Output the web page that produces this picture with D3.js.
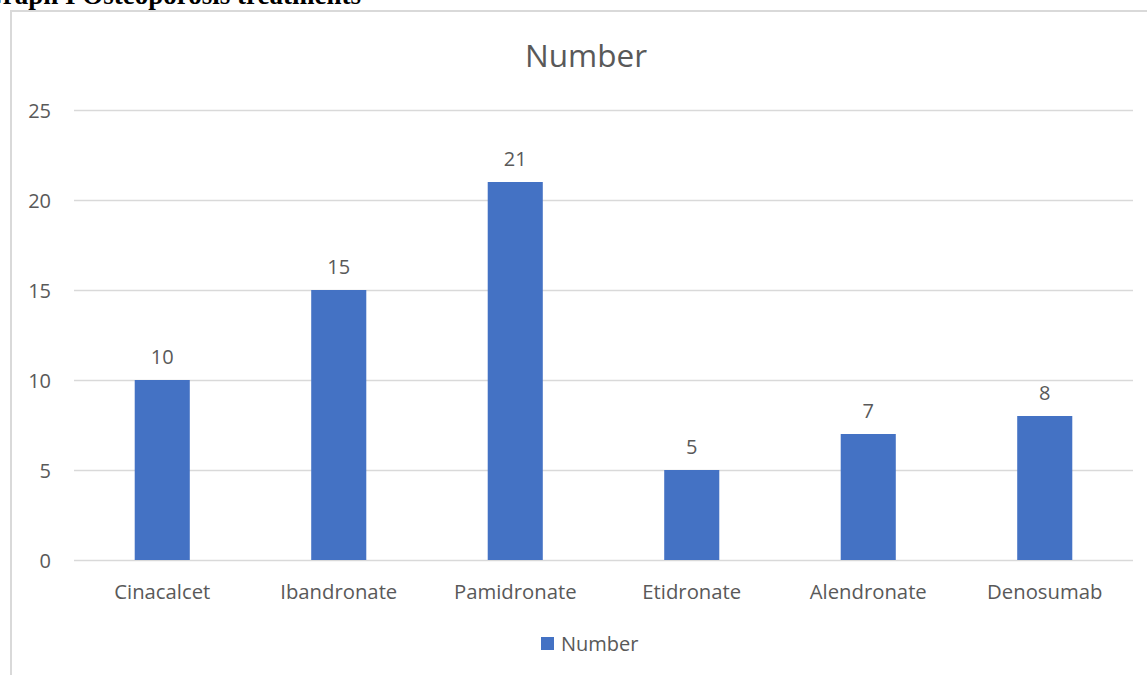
<!DOCTYPE html>
<html>
<head>
<meta charset="utf-8">
<script src="https://cdn.jsdelivr.net/npm/d3@7"></script>
<style>
  html, body { margin: 0; padding: 0; background: #ffffff; overflow: hidden; }
  svg { display: block; }
</style>
</head>
<body>
<svg id="chart" width="1147" height="675"></svg>
<script>
// Osteoporosis treatments: number of patients per drug
const categories = ["Cinacalcet", "Ibandronate", "Pamidronate", "Etidronate", "Alendronate", "Denosumab"];
const values = [10, 15, 21, 5, 7, 8];
const yTicks = [0, 5, 10, 15, 20, 25];
const seriesName = "Number";
const pageHeading = "Graph I Osteoporosis treatments";

const textColor = "#595959";
const barColor = "#4472C4";
const gridColor = "#d9d9d9";
const font = "'Open Sans', 'Noto Sans', sans-serif";

const svg = d3.select("#chart");

// Heading of the document above the chart frame
svg.append("text")
  .attr("x", 361).attr("y", 4)
  .attr("text-anchor", "end")
  .attr("font-family", "'Liberation Serif', 'Times New Roman', serif")
  .attr("font-weight", "bold")
  .attr("font-size", 27)
  .attr("fill", "#000")
  .text(pageHeading);

// Chart frame (left and top edges visible)
svg.append("path")
  .attr("d", "M11,675 L11,11 L1147,11")
  .attr("fill", "none")
  .attr("stroke", gridColor)
  .attr("stroke-width", 2);

const x = d3.scaleBand()
  .domain(categories)
  .range([74, 1133])
  .paddingInner(0.688)
  .paddingOuter(0.344);

const y = d3.scaleLinear()
  .domain([0, 25])
  .range([560, 110]);

// Horizontal gridlines
svg.append("g")
  .selectAll("line")
  .data(yTicks)
  .join("line")
  .attr("x1", 74).attr("x2", 1133)
  .attr("y1", d => Math.round(y(d)) + 0.5)
  .attr("y2", d => Math.round(y(d)) + 0.5)
  .attr("stroke", gridColor)
  .attr("stroke-width", 1.3);

// Y axis labels
const yAxis = d3.axisLeft(y).tickValues(yTicks).tickSize(0).tickPadding(0);
const yg = svg.append("g")
  .attr("transform", "translate(51,0)")
  .call(yAxis);
yg.select(".domain").remove();
yg.selectAll("text")
  .attr("font-family", font)
  .attr("font-size", 20)
  .attr("fill", textColor)
  .attr("dy", "0.35em");

// X axis labels
const xAxis = d3.axisBottom(x).tickSize(0).tickPadding(0);
const xg = svg.append("g")
  .attr("transform", "translate(0,599)")
  .call(xAxis);
xg.select(".domain").remove();
xg.selectAll("text")
  .attr("font-family", font)
  .attr("font-size", 20.3)
  .attr("fill", textColor)
  .attr("dy", 0)
  .attr("y", 0);

// Bars
svg.append("g")
  .selectAll("rect")
  .data(categories.map((c, i) => ({ c, v: values[i] })))
  .join("rect")
  .attr("x", d => x(d.c))
  .attr("width", x.bandwidth())
  .attr("y", d => y(d.v))
  .attr("height", d => y(0) - y(d.v))
  .attr("fill", barColor);

// Value labels
svg.append("g")
  .selectAll("text")
  .data(categories.map((c, i) => ({ c, v: values[i] })))
  .join("text")
  .attr("x", d => x(d.c) + x.bandwidth() / 2)
  .attr("y", d => y(d.v) - 16)
  .attr("text-anchor", "middle")
  .attr("font-family", font)
  .attr("font-size", 20)
  .attr("fill", textColor)
  .text(d => d.v);

// Chart title
svg.append("text")
  .attr("x", 586).attr("y", 67)
  .attr("text-anchor", "middle")
  .attr("font-family", font)
  .attr("font-size", 31.5)
  .attr("fill", textColor)
  .text(seriesName);

// Legend
const legend = svg.append("g");
legend.append("rect")
  .attr("x", 541).attr("y", 637)
  .attr("width", 13).attr("height", 13)
  .attr("fill", barColor);
legend.append("text")
  .attr("x", 561).attr("y", 651)
  .attr("font-family", font)
  .attr("font-size", 20)
  .attr("fill", textColor)
  .text(seriesName);
</script>
</body>
</html>
